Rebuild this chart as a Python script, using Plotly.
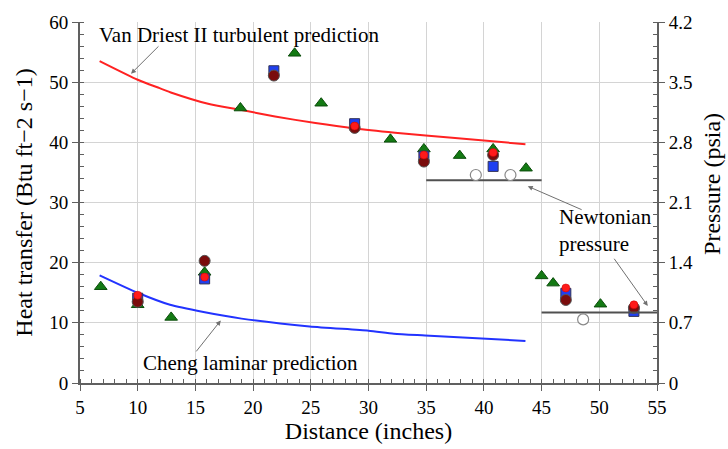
import plotly.graph_objects as go

# Theoretical predictions (heat transfer, Btu ft^-2 s^-1)
vd_x = [6.7, 10.0, 11.9, 13.0, 16.1, 18.9, 21.9, 25.4, 28.8, 32.3, 37.5, 43.6]
vd_y = [53.5, 50.4, 49.0, 48.2, 46.4, 45.4, 44.3, 43.2, 42.3, 41.6, 40.7, 39.7]
cheng_x = [6.7, 10.0, 12.8, 15.7, 19.0, 24.9, 30.0, 32.2, 34.9, 43.6]
cheng_y = [17.9, 15.0, 13.0, 11.8, 10.7, 9.4, 8.7, 8.2, 7.9, 7.0]

# Measured heat transfer
tri_x = [6.8, 10.0, 12.9, 15.8, 18.9, 23.6, 25.9, 31.9, 34.8, 37.9, 40.8, 43.65, 45.0, 46.0, 50.1]
tri_y = [16.0, 13.0, 10.9, 18.4, 45.7, 54.8, 46.5, 40.5, 38.9, 37.8, 38.9, 35.7, 17.8, 16.6, 13.1]
sq_x = [10.0, 15.8, 21.8, 28.8, 34.8, 40.8, 47.1, 53.0]
sq_y = [14.1, 17.3, 51.9, 43.1, 37.7, 36.0, 14.9, 11.9]
dk_x = [10.0, 15.8, 21.8, 28.8, 34.8, 40.8, 47.1, 53.0]
dk_y = [13.5, 20.3, 51.1, 42.4, 36.8, 37.9, 13.8, 12.5]
rd_x = [10.0, 15.8, 28.8, 34.8, 40.8, 47.1, 53.0]
rd_y = [14.6, 17.6, 42.7, 37.9, 38.3, 15.8, 13.0]

# Measured pressure (psia) and Newtonian pressure levels
p_x = [39.3, 42.3, 48.6]
p_y = [2.42, 2.42, 0.74]
newt1_x = [35.0, 45.0]
newt1_y = [2.36, 2.36]
newt2_x = [45.0, 55.0]
newt2_y = [0.82, 0.82]

y2_ticks = [0, 0.7, 1.4, 2.1, 2.8, 3.5, 4.2]
y2_text = ["0", "0.7", "1.4", "2.1", "2.8", "3.5", "4.2"]

FONT = "Liberation Serif"
AX = "#606060"

fig = go.Figure()

fig.add_trace(go.Scatter(x=vd_x, y=vd_y, mode="lines", line=dict(color="#ff2222", width=2, shape="spline", smoothing=0.6), showlegend=False))
fig.add_trace(go.Scatter(x=cheng_x, y=cheng_y, mode="lines", line=dict(color="#2233ff", width=2, shape="spline", smoothing=0.6), showlegend=False))

fig.add_trace(go.Scatter(x=newt1_x, y=newt1_y, yaxis="y2", mode="lines",
                         line=dict(color="#505050", width=2), showlegend=False))
fig.add_trace(go.Scatter(x=newt2_x, y=newt2_y, yaxis="y2", mode="lines",
                         line=dict(color="#505050", width=2), showlegend=False))
fig.add_trace(go.Scatter(x=p_x, y=p_y, yaxis="y2", mode="markers",
                         marker=dict(symbol="circle", size=11, color="white",
                                     line=dict(color="#888888", width=1.2)), showlegend=False))

fig.add_trace(go.Scatter(x=tri_x, y=tri_y, mode="markers",
                         marker=dict(symbol="triangle-up", size=11, color="#137a13",
                                     line=dict(color="#0b4d0b", width=1)), showlegend=False))
fig.add_trace(go.Scatter(x=sq_x, y=sq_y, mode="markers",
                         marker=dict(symbol="square", size=10, color="#1f3ff0",
                                     line=dict(color="#333355", width=1)), showlegend=False))
fig.add_trace(go.Scatter(x=dk_x, y=dk_y, mode="markers",
                         marker=dict(symbol="circle", size=11, color="#7a0c0c",
                                     line=dict(color="#555555", width=1)), showlegend=False))
fig.add_trace(go.Scatter(x=rd_x, y=rd_y, mode="markers",
                         marker=dict(symbol="circle", size=8, color="#ff1a1a",
                                     line=dict(color="#cc0000", width=0.5)), showlegend=False))

arrow_kw = dict(showarrow=True, arrowhead=2, arrowsize=1, arrowwidth=1, arrowcolor="#707070",
                xref="x", yref="y", axref="x", ayref="y", text="")
fig.add_annotation(x=9.42, y=51.4, ax=11.93, ay=56.2, **arrow_kw)
fig.add_annotation(x=17.2, y=10.4, ax=14.97, ay=5.0, **arrow_kw)
fig.add_annotation(x=43.8, y=32.7, ax=48.6, ay=28.7, **arrow_kw)
fig.add_annotation(x=54.2, y=12.8, ax=51.2, ay=20.9, **arrow_kw)

txt_font = dict(family=FONT, size=21, color="black")
fig.add_annotation(x=18.8, y=57.9, text="Van Driest II turbulent prediction", showarrow=False,
                   xref="x", yref="y", font=txt_font)
fig.add_annotation(x=19.8, y=3.4, text="Cheng laminar prediction", showarrow=False,
                   xref="x", yref="y", font=txt_font)
fig.add_annotation(x=46.3, y=25.3, text="Newtonian<br>pressure", showarrow=False, align="left",
                   xanchor="left", xref="x", yref="y", font=txt_font)
fig.add_annotation(x=1.121, y=0.551, text="Pressure (psia)", showarrow=False, textangle=-90,
                   xref="paper", yref="paper", font=dict(family=FONT, size=24, color="black"))

axis_common = dict(showline=True, linecolor=AX, linewidth=2, mirror=False,
                   zeroline=False,
                   ticks="outside", ticklen=6, tickcolor=AX, tickwidth=1,
                   tickfont=dict(family=FONT, size=19, color="black"))

fig.update_layout(
    width=728, height=449,
    margin=dict(l=80, r=71, t=14, b=65),
    paper_bgcolor="white", plot_bgcolor="white",
    font=dict(family=FONT, color="black"),
    xaxis=dict(range=[5, 55], dtick=5, tick0=5, gridcolor="#d4d4d4", gridwidth=1,
               minor=dict(dtick=1, ticks="inside", ticklen=4, tickcolor=AX, showgrid=False),
               title=dict(text="Distance (inches)", font=dict(family=FONT, size=24, color="black"), standoff=2),
               **axis_common),
    yaxis=dict(range=[0, 60], dtick=10, gridcolor="#d4d4d4", gridwidth=1,
               minor=dict(dtick=2, ticks="inside", ticklen=4, tickcolor=AX, showgrid=False),
               title=dict(text="Heat transfer (Btu ft\u22122 s\u22121)", font=dict(family=FONT, size=24, color="black"), standoff=10),
               **axis_common),
    yaxis2=dict(range=[0, 4.2], overlaying="y", side="right", tickvals=y2_ticks, ticktext=y2_text,
                showgrid=False,
                minor=dict(dtick=0.14, ticks="inside", ticklen=4, tickcolor=AX),
                **axis_common),
)

fig.write_html("out.html")
